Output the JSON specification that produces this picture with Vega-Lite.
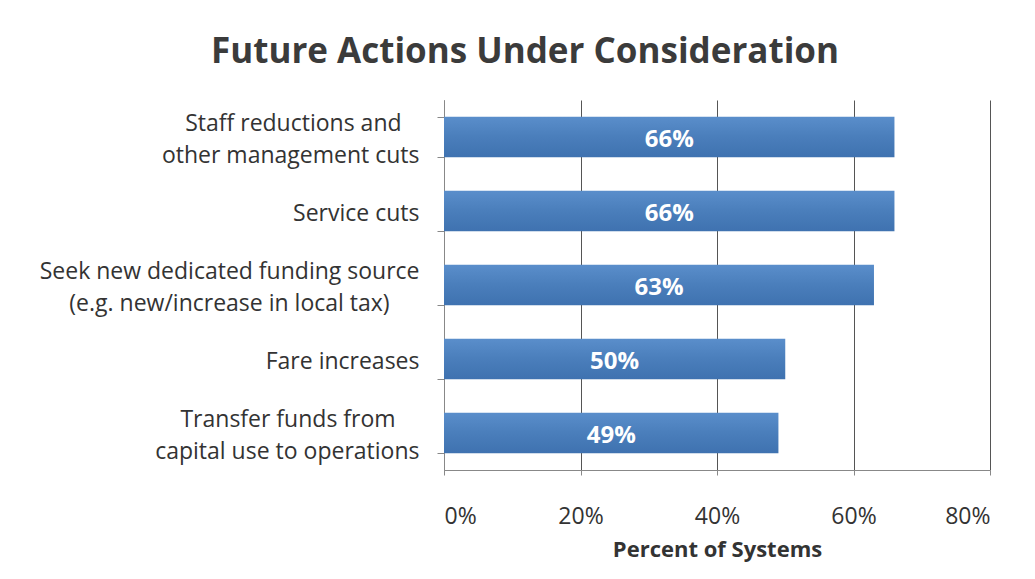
{
  "$schema": "https://vega.github.io/schema/vega-lite/v6.json",
  "width": 546,
  "height": 370,
  "autosize": "none",
  "padding": {"left": 444, "top": 100, "right": 45, "bottom": 109},
  "background": "white",
  "title": {
    "text": "Future Actions Under Consideration",
    "font": "Open Sans",
    "fontSize": 35,
    "fontWeight": "bold",
    "color": "#3b3b3b",
    "anchor": "middle",
    "dx": -192,
    "offset": 19
  },
  "config": {"view": {"stroke": null}},
  "data": {
    "values": [
      {"action": "Staff reductions and\u00a0\u00a0\u00a0\u2060|other management  cuts", "value": 66},
      {"action": "Service cuts", "value": 66},
      {"action": "Seek new dedicated funding source|(e.g. new/increase in local tax)\u00a0\u00a0\u00a0\u00a0\u00a0\u2060", "value": 63},
      {"action": "Fare increases", "value": 50},
      {"action": "Transfer funds from\u00a0\u00a0\u00a0\u00a0\u2060|capital use to operations", "value": 49}
    ]
  },
  "encoding": {
    "y": {
      "field": "action",
      "type": "nominal",
      "sort": null,
      "scale": {"paddingInner": 0.45},
      "axis": {
        "title": null,
        "labelExpr": "split(datum.label, '|')",
        "labelFont": "Open Sans",
        "labelFontSize": 23,
        "labelColor": "#333333",
        "labelLineHeight": 32,
        "labelPadding": 18,
        "labelLimit": 420,
        "labelOffset": {"expr": "indexof(datum.label, '|') >= 0 ? -14 : 2"},
        "tickBand": "extent",
        "tickSize": 7,
        "tickColor": "#888888",
        "domainColor": "#888888"
      }
    }
  },
  "layer": [
    {
      "mark": {
        "type": "bar",
        "color": {
          "gradient": "linear",
          "x1": 0, "y1": 0, "x2": 0, "y2": 1,
          "stops": [
            {"offset": 0, "color": "#5a8ecb"},
            {"offset": 0.5, "color": "#4a7ebb"},
            {"offset": 1, "color": "#3f72b0"}
          ]
        }
      },
      "encoding": {
        "x": {
          "field": "value",
          "type": "quantitative",
          "scale": {"domain": [0, 80]},
          "axis": {
            "values": [0, 20, 40, 60, 80],
            "labelExpr": "datum.value + '%'",
            "title": "Percent of Systems",
            "titleFont": "Open Sans",
            "titleFontSize": 22,
            "titleFontWeight": "bold",
            "titleColor": "#333333",
            "titlePadding": 11,
            "labelFont": "Open Sans",
            "labelFontSize": 23,
            "labelColor": "#333333",
            "labelPadding": 30,
            "tickSize": 5,
            "tickColor": "#888888",
            "domainColor": "#888888",
            "grid": true,
            "gridColor": "#555555",
            "gridWidth": 1
          }
        }
      }
    },
    {
      "mark": {"type": "text", "font": "Open Sans", "fontSize": 24, "fontWeight": "bold", "color": "white", "align": "center", "baseline": "middle", "dy": 3, "text": {"expr": "datum.value + '%'"}},
      "encoding": {
        "x": {"field": "value", "type": "quantitative", "scale": {"domain": [0, 160]}, "axis": null},
        "detail": {"field": "action"}
      }
    }
  ],
  "resolve": {"scale": {"x": "independent"}}
}
